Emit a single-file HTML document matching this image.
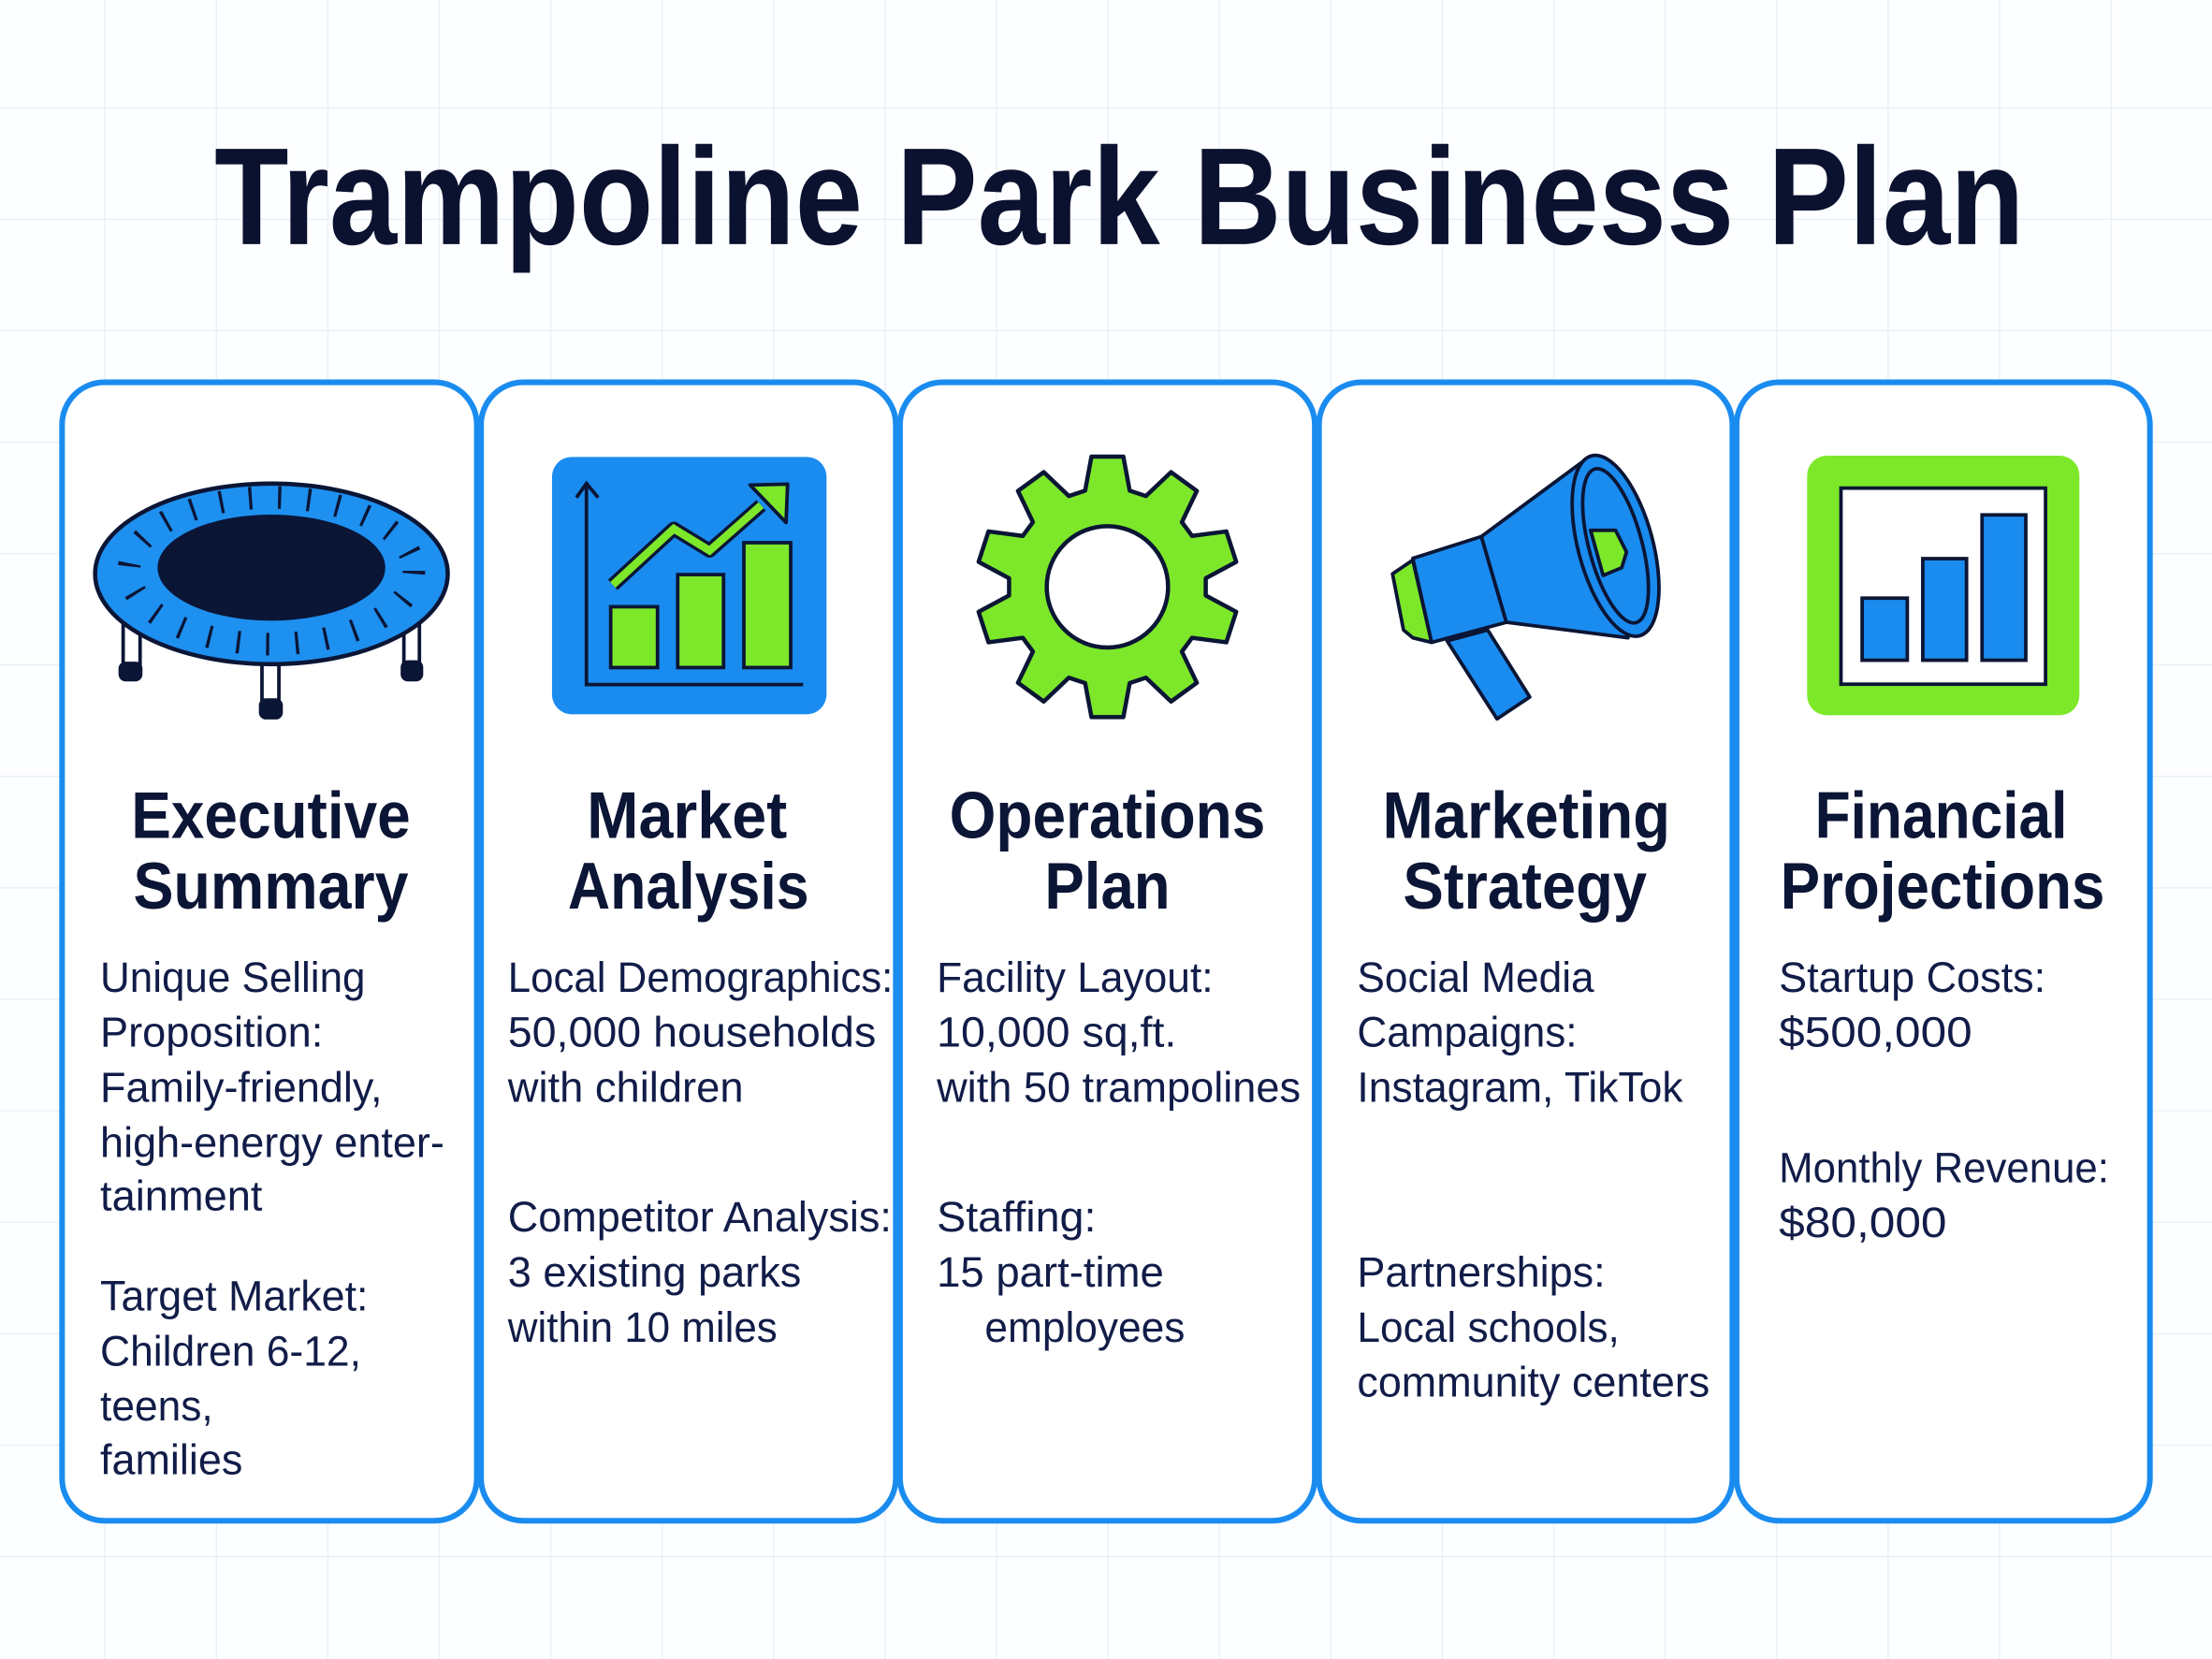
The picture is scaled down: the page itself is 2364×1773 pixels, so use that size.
<!DOCTYPE html>
<html><head><meta charset="utf-8"><style>
html,body{margin:0;padding:0;background:#fff;}
svg{display:block;}
.b{font-family:"Liberation Sans",sans-serif;font-size:30px;fill:#111c48;}
.h{font-family:"Liberation Sans",sans-serif;font-size:47px;font-weight:bold;fill:#0b1535;text-anchor:middle;}
</style></head><body>
<svg width="2364" height="1773" viewBox="0 0 1568 1176" xmlns="http://www.w3.org/2000/svg">
<defs>
<pattern id="g" x="74" y="76" width="79" height="79" patternUnits="userSpaceOnUse">
<path d="M0 0H79M0 0V79" stroke="#e6edf7" stroke-width="1.6" fill="none"/>
</pattern>
</defs>
<rect width="1568" height="1176" fill="#fdfeff"/>
<rect width="1568" height="1176" fill="url(#g)"/>

<text x="152" y="173" font-family="Liberation Sans, sans-serif" font-weight="bold" font-size="98" fill="#0a1230" textLength="1283" lengthAdjust="spacingAndGlyphs">Trampoline Park Business Plan</text>

<g fill="#fff" stroke="#1a8cf0" stroke-width="4">
<rect x="44" y="271" width="294" height="807" rx="30"/>
<rect x="341" y="271" width="294" height="807" rx="30"/>
<rect x="638" y="271" width="294" height="807" rx="30"/>
<rect x="935" y="271" width="293" height="807" rx="30"/>
<rect x="1231" y="271" width="293" height="807" rx="30"/>
</g>

<!-- trampoline -->
<g stroke="#0b1535" stroke-width="2.5">
<rect x="87.3" y="440" width="12" height="34" fill="#fff"/>
<rect x="286.3" y="440" width="11" height="32" fill="#fff"/>
<rect x="185.7" y="466" width="12" height="32" fill="#fff"/>
</g>
<g fill="#0b1535">
<rect x="84" y="469" width="17" height="14" rx="5"/>
<rect x="284" y="468" width="16" height="15" rx="5"/>
<rect x="183.5" y="495" width="17" height="15" rx="5"/>
</g>
<ellipse cx="192.4" cy="406.8" rx="125" ry="64" fill="#1e90f0" stroke="#0b1535" stroke-width="3"/>
<ellipse cx="192.4" cy="402.4" rx="80.7" ry="37.6" fill="#0b1535"/>
<ellipse cx="192.4" cy="404.6" rx="101" ry="52" fill="none" stroke="#0b1535" stroke-width="16" stroke-dasharray="2.2 18.6"/>

<!-- market chart -->
<rect x="391.3" y="323.9" width="194.6" height="182.4" rx="14" fill="#1a8cf0"/>
<g stroke="#0b1535" stroke-width="2.5" fill="none">
<path d="M415.7 342.7V485.3H569.3"/>
<path d="M408.6 352.7L415.7 342.7L424 352.7"/>
</g>
<g fill="#7de82a" stroke="#0b1535" stroke-width="2.5">
<rect x="432.9" y="430.1" width="33.2" height="43.1"/>
<rect x="480.4" y="407.3" width="32.5" height="65.9"/>
<rect x="527.3" y="384.7" width="33.2" height="88.5"/>
</g>
<polyline points="434.4,414.6 477.6,374.8 503,390.3 539.5,358.2" fill="none" stroke="#0b1535" stroke-width="10" stroke-linejoin="round"/>
<polyline points="434.4,414.6 477.6,374.8 503,390.3 539.5,358.2" fill="none" stroke="#7de82a" stroke-width="5.5" stroke-linejoin="miter"/>
<polygon points="531.7,343.8 558.3,343.2 557.2,370.4" fill="#7de82a" stroke="#0b1535" stroke-width="2.5" stroke-linejoin="round"/>

<!-- gear -->
<path d="M769.2,347.8 L773.7,323.7 L796.3,323.7 L800.8,347.8 L812.3,351.6 L830.1,334.7 L848.4,348 L837.8,370.1 L845,379.9 L869.3,376.7 L876.3,398.3 L854.7,409.9 L854.7,422.1 L876.3,433.7 L869.3,455.3 L845,452.1 L837.8,461.9 L848.4,484 L830.1,497.3 L812.3,480.4 L800.8,484.2 L796.3,508.3 L773.7,508.3 L769.2,484.2 L757.7,480.4 L739.9,497.3 L721.6,484 L732.2,461.9 L725,452.1 L700.7,455.3 L693.7,433.7 L715.3,422.1 L715.3,409.9 L693.7,398.3 L700.7,376.7 L725,379.9 L732.2,370.1 L721.6,348 L739.9,334.7 L757.7,351.6 Z" fill="#7de82a" stroke="#0b1535" stroke-width="3" stroke-linejoin="round"/>
<circle cx="785" cy="416" r="43" fill="#fff" stroke="#0b1535" stroke-width="3"/>

<!-- megaphone -->
<g stroke="#0b1535" stroke-width="2.5" stroke-linejoin="round">
<polygon points="1025.8,454.3 1054.6,446.6 1084.4,494.1 1061.2,509.6" fill="#1a8cf0"/>
<polygon points="987.1,406.8 1001.5,397 1014.8,455.4 1001.5,452.1 994.9,446.6" fill="#7de82a"/>
<polygon points="1001.5,395.8 1050.1,380.3 1067.8,441.1 1014.8,455.4" fill="#1a8cf0"/>
<polygon points="1050.1,380.3 1126.4,323.9 1154,452.1 1067.8,441.1" fill="#1a8cf0"/>
<ellipse cx="1145.2" cy="386.9" rx="26.5" ry="66" transform="rotate(-15 1145.2 386.9)" fill="#1a8cf0"/>
<ellipse cx="1145.2" cy="386.9" rx="18.8" ry="56.4" transform="rotate(-15 1145.2 386.9)" fill="#1a8cf0"/>
<polygon points="1127.5,375.9 1145.2,375.9 1153,391.3 1149.6,402.4 1136.4,407.9" fill="#7de82a"/>
</g>

<!-- financial -->
<rect x="1281" y="323" width="193" height="184" rx="14" fill="#7de82a"/>
<rect x="1305" y="346" width="145" height="139" fill="#fff" stroke="#0b1535" stroke-width="2.5"/>
<g fill="#1a8cf0" stroke="#0b1535" stroke-width="2.5">
<rect x="1320" y="424" width="32" height="44"/>
<rect x="1363" y="396" width="31" height="72"/>
<rect x="1405" y="365" width="31" height="103"/>
</g>

<!-- headings -->
<text class="h" x="192" y="594" textLength="198" lengthAdjust="spacingAndGlyphs">Executive</text>
<text class="h" x="192" y="644" textLength="195" lengthAdjust="spacingAndGlyphs">Summary</text>
<text class="h" x="487" y="594" textLength="142" lengthAdjust="spacingAndGlyphs">Market</text>
<text class="h" x="488" y="644" textLength="171" lengthAdjust="spacingAndGlyphs">Analysis</text>
<text class="h" x="785" y="594" textLength="224" lengthAdjust="spacingAndGlyphs">Operations</text>
<text class="h" x="785" y="644" textLength="89" lengthAdjust="spacingAndGlyphs">Plan</text>
<text class="h" x="1082" y="594" textLength="204" lengthAdjust="spacingAndGlyphs">Marketing</text>
<text class="h" x="1081" y="644" textLength="173" lengthAdjust="spacingAndGlyphs">Strategy</text>
<text class="h" x="1376" y="594" textLength="179" lengthAdjust="spacingAndGlyphs">Financial</text>
<text class="h" x="1377" y="644" textLength="230" lengthAdjust="spacingAndGlyphs">Projections</text>

<!-- body -->
<g class="b">
<text x="71" y="703" textLength="188" lengthAdjust="spacingAndGlyphs">Unique Selling</text>
<text x="71" y="742" textLength="158" lengthAdjust="spacingAndGlyphs">Proposition:</text>
<text x="71" y="781" textLength="200" lengthAdjust="spacingAndGlyphs">Family-friendly,</text>
<text x="71" y="820" textLength="244" lengthAdjust="spacingAndGlyphs">high-energy enter-</text>
<text x="71" y="858" textLength="115" lengthAdjust="spacingAndGlyphs">tainment</text>
<text x="71" y="929" textLength="190" lengthAdjust="spacingAndGlyphs">Target Market:</text>
<text x="71" y="968" textLength="185" lengthAdjust="spacingAndGlyphs">Children 6-12,</text>
<text x="71" y="1007" textLength="80" lengthAdjust="spacingAndGlyphs">teens,</text>
<text x="71" y="1045" textLength="101" lengthAdjust="spacingAndGlyphs">families</text>

<text x="360" y="703" textLength="273" lengthAdjust="spacingAndGlyphs">Local Demographics:</text>
<text x="360" y="742" textLength="261" lengthAdjust="spacingAndGlyphs">50,000 households</text>
<text x="360" y="781" textLength="167" lengthAdjust="spacingAndGlyphs">with children</text>
<text x="360" y="873" textLength="272" lengthAdjust="spacingAndGlyphs">Competitor Analysis:</text>
<text x="360" y="912" textLength="208" lengthAdjust="spacingAndGlyphs">3 existing parks</text>
<text x="360" y="951" textLength="191" lengthAdjust="spacingAndGlyphs">within 10 miles</text>

<text x="664" y="703" textLength="196" lengthAdjust="spacingAndGlyphs">Facility Layout:</text>
<text x="664" y="742" textLength="170" lengthAdjust="spacingAndGlyphs">10,000 sq,ft.</text>
<text x="664" y="781" textLength="258" lengthAdjust="spacingAndGlyphs">with 50 trampolines</text>
<text x="664" y="873" textLength="113" lengthAdjust="spacingAndGlyphs">Staffing:</text>
<text x="664" y="912" textLength="161" lengthAdjust="spacingAndGlyphs">15 part-time</text>
<text x="698" y="951" textLength="142" lengthAdjust="spacingAndGlyphs">employees</text>

<text x="962" y="703" textLength="168" lengthAdjust="spacingAndGlyphs">Social Media</text>
<text x="962" y="742" textLength="156" lengthAdjust="spacingAndGlyphs">Campaigns:</text>
<text x="962" y="781" textLength="231" lengthAdjust="spacingAndGlyphs">Instagram, TikTok</text>
<text x="962" y="912" textLength="176" lengthAdjust="spacingAndGlyphs">Partnerships:</text>
<text x="962" y="951" textLength="186" lengthAdjust="spacingAndGlyphs">Local schools,</text>
<text x="962" y="990" textLength="250" lengthAdjust="spacingAndGlyphs">community centers</text>

<text x="1261" y="703" textLength="189" lengthAdjust="spacingAndGlyphs">Startup Costs:</text>
<text x="1261" y="742" textLength="137" lengthAdjust="spacingAndGlyphs">$500,000</text>
<text x="1261" y="838" textLength="234" lengthAdjust="spacingAndGlyphs">Monthly Revenue:</text>
<text x="1261" y="877" textLength="119" lengthAdjust="spacingAndGlyphs">$80,000</text>
</g>
</svg>
</body></html>
